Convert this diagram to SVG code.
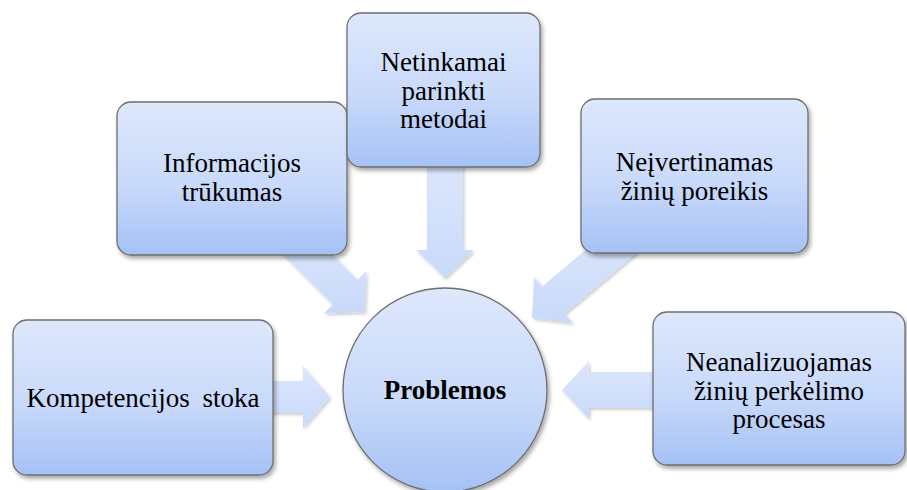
<svg xmlns="http://www.w3.org/2000/svg" width="907" height="490" viewBox="0 0 907 490">
<defs>
<linearGradient id="gBox" x1="0" y1="0" x2="0" y2="1">
<stop offset="0" stop-color="#dee8fc"/>
<stop offset="0.55" stop-color="#c8d9fa"/>
<stop offset="1" stop-color="#a5c1f5"/>
</linearGradient>
<linearGradient id="gArr" x1="0" y1="0" x2="0" y2="1">
<stop offset="0" stop-color="#dde7fc"/>
<stop offset="1" stop-color="#c8d9fa"/>
</linearGradient>
<filter id="sh" x="-20%" y="-20%" width="140%" height="140%">
<feDropShadow dx="2" dy="3" stdDeviation="2" flood-color="#000" flood-opacity="0.35"/>
</filter>
<filter id="shA" x="-20%" y="-20%" width="140%" height="140%">
<feDropShadow dx="1.5" dy="2" stdDeviation="1.5" flood-color="#000" flood-opacity="0.2"/>
</filter>
</defs>
<style>
.box{fill:url(#gBox);stroke:#6e6e6e;stroke-width:1.3;filter:url(#sh)}
.arr{fill:url(#gArr);stroke:none;filter:url(#shA)}
.t{font-family:"Liberation Serif","Times New Roman",serif;font-size:27px;fill:#000;text-anchor:middle}
.b{font-weight:bold}
</style>
<rect width="907" height="490" fill="#fff"/>
<g id="connectors">
<path class="arr" d="M268,381 H303 V366 L330,397 L303,428 V413 H268 Z"/>
<path class="arr" d="M427,160 V250 H416 L445,278 L474,250 H463 V160 Z"/>
<path class="arr" d="M660,372 H589 V361 L562,390 L589,419 V408 H660 Z"/>
<path class="arr" d="M304.6,226.8 L357.6,279.8 L366.4,271 L365,312 L324,313.4 L332.8,304.6 L279.8,251.6 Z"/>
<path class="arr" d="M637.5,252.3 L564.7,313.4 L572.7,323 L532,318 L534.1,277 L542.1,286.6 L614.9,225.5 Z"/>
</g>
<g id="n-kompetencijos">
<rect class="box" x="13" y="320" width="260" height="155" rx="14"/>
<text class="t" x="143" y="407" word-spacing="6">Kompetencijos stoka</text>
</g>
<g id="n-informacijos">
<rect class="box" x="117" y="102" width="230" height="153" rx="14"/>
<text class="t" x="232" y="172">Informacijos</text>
<text class="t" x="232" y="201">trūkumas</text>
</g>
<g id="n-netinkamai">
<rect class="box" x="347" y="13" width="193" height="154" rx="14"/>
<text class="t" x="443.5" y="71">Netinkamai</text>
<text class="t" x="443.5" y="99.5">parinkti</text>
<text class="t" x="443.5" y="128">metodai</text>
</g>
<g id="n-neivertinamas">
<rect class="box" x="581" y="99" width="227" height="154" rx="14"/>
<text class="t" x="694.5" y="171">Neįvertinamas</text>
<text class="t" x="694.5" y="199.5">žinių poreikis</text>
</g>
<g id="n-neanalizuojamas">
<rect class="box" x="653" y="312" width="252" height="153" rx="14"/>
<text class="t" x="779" y="371">Neanalizuojamas</text>
<text class="t" x="779" y="399.5">žinių perkėlimo</text>
<text class="t" x="779" y="428">procesas</text>
</g>
<g id="n-problemos">
<circle class="box" cx="445" cy="390" r="102"/>
<text class="t b" x="445" y="399">Problemos</text>
</g>
</svg>
